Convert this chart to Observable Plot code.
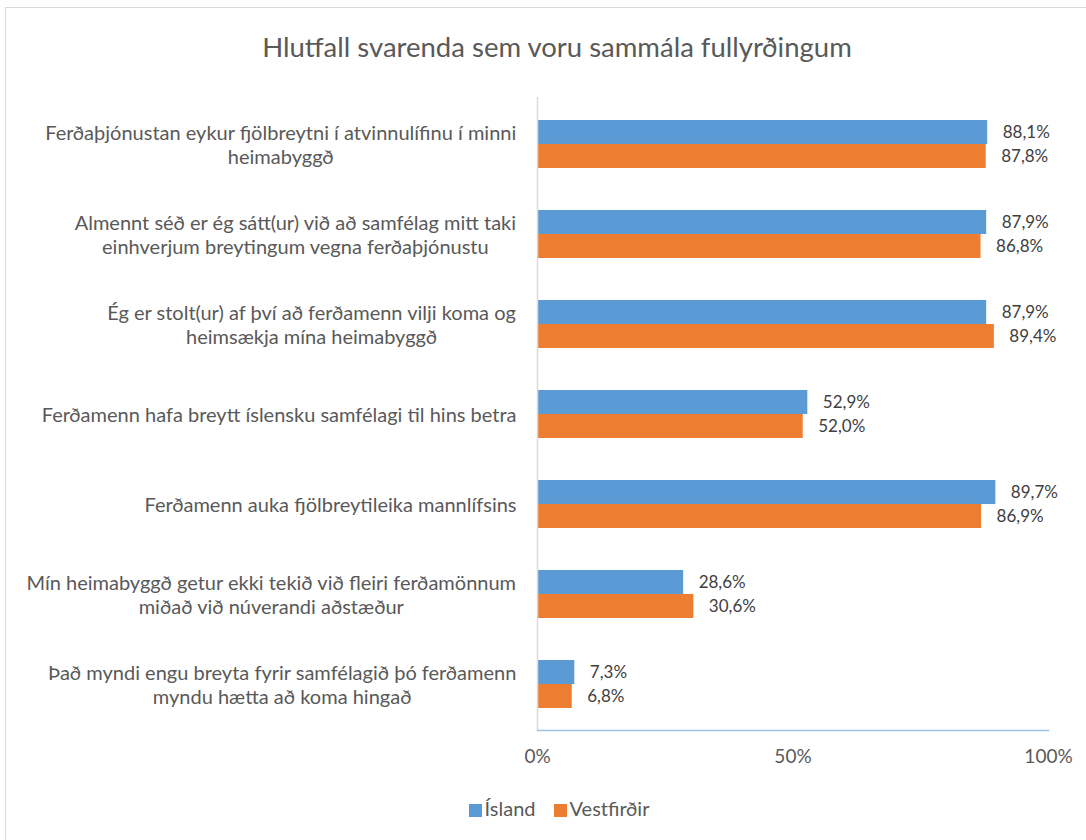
<!DOCTYPE html>
<html>
<head>
<meta charset="utf-8">
<script src="https://cdn.jsdelivr.net/npm/d3@7"></script>
<script src="https://cdn.jsdelivr.net/npm/@observablehq/plot@0.6"></script>
<style>
  html, body { margin: 0; padding: 0; background: #fff; }
  #wrap { position: relative; width: 1086px; height: 840px; overflow: hidden; font-family: Lato, "Open Sans", sans-serif; color: #595959; }
  #frame { position: absolute; left: 5px; top: 7px; width: 1100px; height: 860px; border: 1px solid #d9d9d9; box-sizing: border-box; }
  #title { position: absolute; left: 0; top: 29px; width: 1114px; text-align: center; font-size: 27.5px; line-height: 36px; }
  #chart { position: absolute; left: 0; top: 90px; }
  #legend { position: absolute; left: 0; top: 794px; width: 1118px; text-align: center; font-size: 20px; line-height: 28px; }
  #legend span.item { display: inline-block; margin: 0 9px; }
  #legend span.sw { display: inline-block; width: 13px; height: 13px; margin-right: 3px; vertical-align: -1px; }
</style>
</head>
<body>
<div id="wrap">
  <div id="frame"></div>
  <div id="title"></div>
  <div id="chart"></div>
  <div id="legend"></div>
</div>
<script>
const titleText = "Hlutfall svarenda sem voru sammála fullyrðingum";
const categories = [
  "Ferðaþjónustan eykur fjölbreytni í atvinnulífinu í minni\nheimabyggð",
  "Almennt séð er ég sátt(ur) við að samfélag mitt taki\neinhverjum breytingum vegna ferðaþjónustu",
  "Ég er stolt(ur) af því að ferðamenn vilji koma og\nheimsækja mína heimabyggð",
  "Ferðamenn hafa breytt íslensku samfélagi til hins betra",
  "Ferðamenn auka fjölbreytileika mannlífsins",
  "Mín heimabyggð getur ekki tekið við fleiri ferðamönnum\nmiðað við núverandi aðstæður",
  "Það myndi engu breyta fyrir samfélagið þó ferðamenn\nmyndu hætta að koma hingað"
];
const seriesNames = ["Ísland", "Vestfirðir"];
const islandValues = [88.1, 87.9, 87.9, 52.9, 89.7, 28.6, 7.3];
const vestfirdirValues = [87.8, 86.8, 89.4, 52.0, 86.9, 30.6, 6.8];
const xTicks = [0, 50, 100];
const colors = ["#5B9BD5", "#ED7D31"];

document.getElementById("title").textContent = titleText;

const W = 1086, H = 685, mTop = 7, mBottom = 45, mLeft = 537, mRight = 38;
const padIn = 0.47, padOut = 0.235;
const step = (H - mTop - mBottom) / (categories.length - padIn + 2 * padOut);
const bw = step * (1 - padIn);

const fmt = v => v.toFixed(1).replace(".", ",") + "%";
const rowsI = categories.map((c, i) => ({cat: c, v: islandValues[i]}));
const rowsV = categories.map((c, i) => ({cat: c, v: vestfirdirValues[i]}));

const labelSize = 20;
const ctx = document.createElement("canvas").getContext("2d");
ctx.font = labelSize + "px Lato";
const labelGap = 21;
const labelMarks = categories.map(c => {
  const w = Math.max(...c.split("\n").map(l => ctx.measureText(l).width));
  return Plot.text([c], {
    y: d => d, frameAnchor: "left", text: d => d,
    textAnchor: "middle", lineAnchor: "middle", lineHeight: 1.2,
    dx: -(labelGap + w / 2), fontSize: labelSize, fill: "#595959"
  });
});

const plot = Plot.plot({
  width: W, height: H,
  marginTop: mTop, marginBottom: mBottom, marginLeft: mLeft, marginRight: mRight,
  style: {fontFamily: "Lato, sans-serif", color: "#595959", background: "transparent"},
  x: {domain: [0, 100], label: null},
  y: {domain: categories, paddingInner: padIn, paddingOuter: padOut, axis: null},
  marks: [
    Plot.barX(rowsI, {x: "v", y: "cat", fill: colors[0], insetBottom: bw / 2}),
    Plot.barX(rowsV, {x: "v", y: "cat", fill: colors[1], insetTop: bw / 2}),
    Plot.ruleX([0], {stroke: "#d9d9d9", strokeWidth: 1.5}),
    Plot.frame({anchor: "bottom", stroke: "#9DC3E6", strokeWidth: 1.5}),
    Plot.text(rowsI, {x: "v", y: "cat", text: d => fmt(d.v), textAnchor: "start", dx: 15, dy: -bw / 4, fontSize: 17, fill: "#404040"}),
    Plot.text(rowsV, {x: "v", y: "cat", text: d => fmt(d.v), textAnchor: "start", dx: 15, dy: bw / 4, fontSize: 17, fill: "#404040"}),
    Plot.axisX({ticks: xTicks, tickFormat: d => d + "%", tickSize: 0, tickPadding: 19, fontSize: 19, fill: "#595959", label: null}),
    ...labelMarks
  ]
});
document.getElementById("chart").appendChild(plot);

const legend = document.getElementById("legend");
seriesNames.forEach((s, i) => {
  const item = document.createElement("span");
  item.className = "item";
  const sw = document.createElement("span");
  sw.className = "sw";
  sw.style.background = colors[i];
  item.appendChild(sw);
  item.appendChild(document.createTextNode(s));
  legend.appendChild(item);
});
</script>
</body>
</html>
